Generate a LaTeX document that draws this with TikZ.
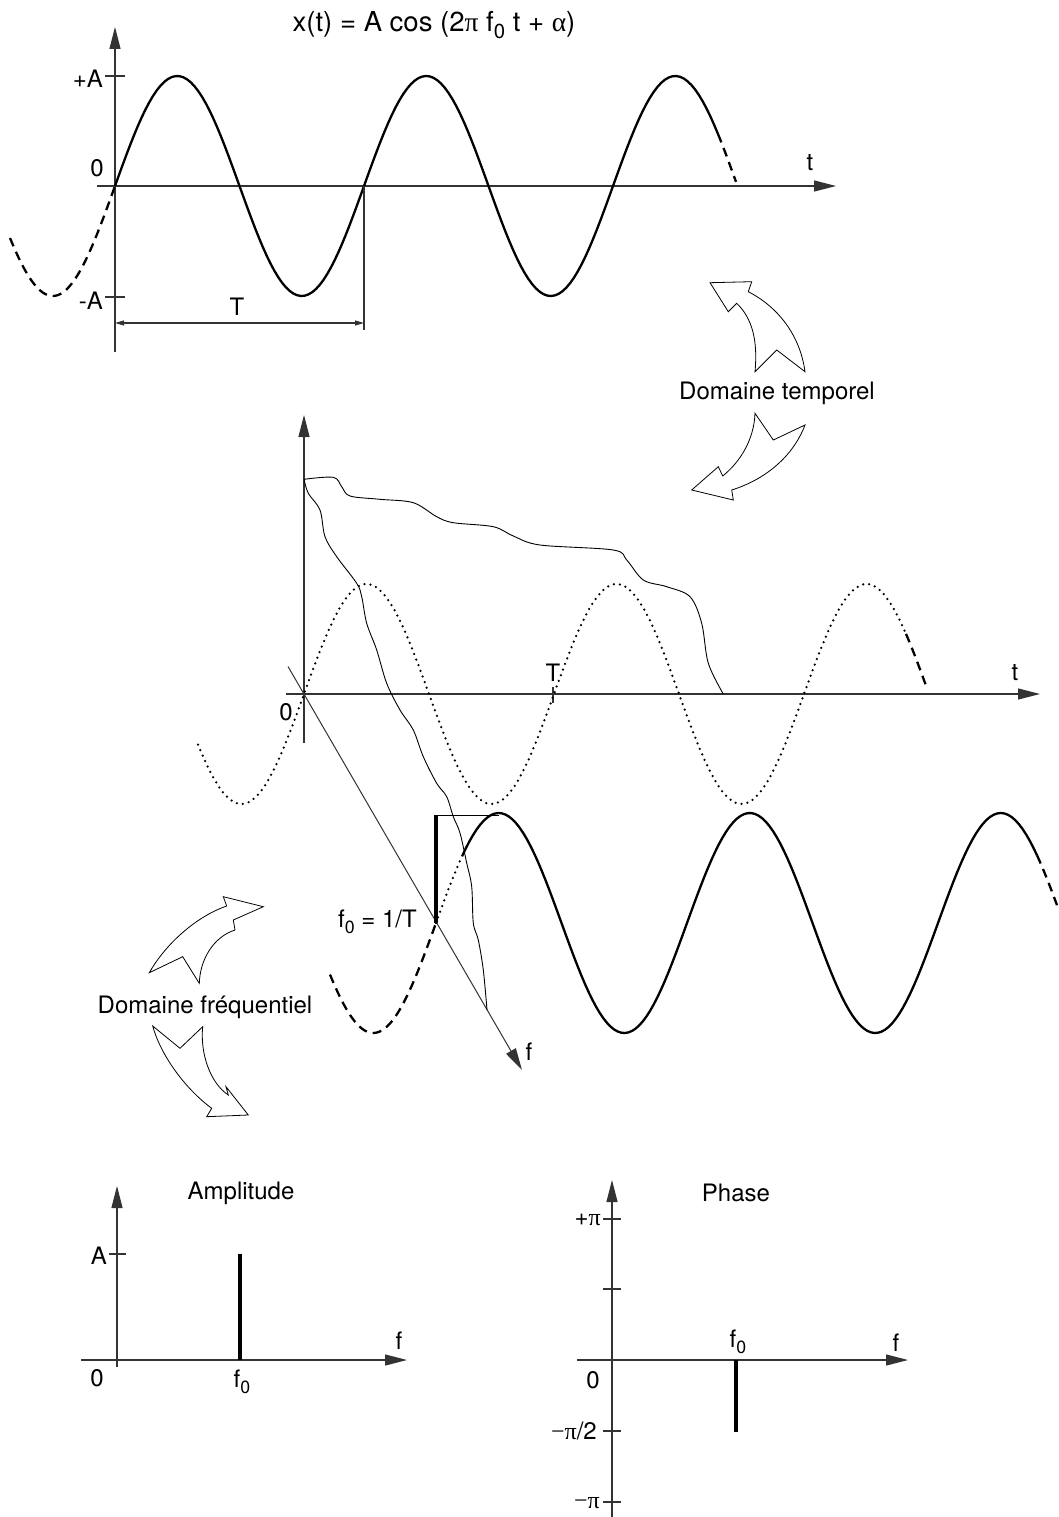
\documentclass[tikz,border=0pt]{standalone}
\usepackage{fontspec}
\setmainfont{TeX Gyre Heros}
\newfontfamily\symbfont{Liberation Serif}
\usetikzlibrary{arrows.meta}

\newcommand\fzero{f\raisebox{-0.25em}{\scalebox{0.74}{0}}}
\newcommand\gk[1]{{\symbfont #1}}

\begin{document}
\begin{tikzpicture}[x=1pt, y=-1pt,
    axis/.style={line width=1.2pt, black!80},
    bigtip/.style={-{Triangle[length=22pt,width=11pt]}},
    wave/.style={line width=2.3pt, line join=round},
    dotwave/.style={line width=2.5pt, dash pattern=on 0pt off 6pt, line cap=round},
    tailwave/.style={line width=2.3pt, dash pattern=on 9pt off 6pt},
    wiggle/.style={line width=0.9pt, line join=round},
    spike/.style={line width=3.6pt},
    lbl/.style={font=\fontsize{24}{27}\selectfont, inner sep=1pt},
    blockarrow/.style={line width=0.8pt, fill=white, line join=miter}]
    \useasboundingbox (0,0) rectangle (1058,1517);

    % Formula on top
    \node[font=\fontsize{27.5}{30}\selectfont, anchor=base] (title) at (434,31.7)
        {x(t) = A cos (2\gk{π} \fzero\ t + \gk{α})};

    % ---------- Time domain signal ----------
    \def\Ta{249}
    \coordinate (o1) at (115,186);
    \coordinate (y1b) at (115,352);
    \coordinate (y1t) at (115,27);
    \coordinate (x1l) at (97,186);
    \coordinate (x1r) at (836,186);
    \draw[axis, bigtip] (y1b) -- (y1t);
    \draw[axis, bigtip] (x1l) -- (x1r);
    \draw[axis] (105,76) -- (125,76);
    \draw[axis] (105,297) -- (125,297);
    \node[lbl, anchor=east] (pA) at (104,79) {+A};
    \node[lbl, anchor=east] (mA) at (104,301) {-A};
    \node[lbl] (zero1) at (97,168) {0};
    \node[lbl] (t1) at (810,163) {t};

    % the sine, continued dashed on both sides
    \draw[wave] plot[domain=115:718, samples=160] (\x, {186-110*sin((\x-115)/\Ta*360)});
    \draw[tailwave] plot[domain=718:736, samples=10] (\x, {186-110*sin((\x-115)/\Ta*360)});
    \draw[tailwave] plot[domain=10:115, samples=40] (\x, {186-110*sin((\x-115)/\Ta*360)});

    % period
    \coordinate (p1) at (364,186);
    \coordinate (p1b) at (364,330);
    \coordinate (d1l) at (115,323);
    \coordinate (d1r) at (364,323);
    \draw[axis] (p1) -- (p1b);
    \draw[axis, {Triangle[length=9pt,width=5pt]}-{Triangle[length=9pt,width=5pt]}] (d1l) -- (d1r);
    \node[lbl] (T1) at (237,307) {T};

    % ---------- Curved arrows, time domain ----------
    \draw[blockarrow] (710,282.7) -- (751.7,281.7) -- (748.3,291.7)
        .. controls (778,307) and (800,335) .. (805,371.7) -- (776.7,350) -- (755,371.7)
        .. controls (758,340) and (752,318) .. (736.7,303.3) -- (728.3,311.7) -- cycle;
    \draw[blockarrow] (755,413.3) -- (773.3,440) -- (805,425)
        .. controls (795,452) and (770,478) .. (731.7,490) -- (733.3,500) -- (691.7,490)
        -- (718.3,466.7) -- (722.7,476) .. controls (740,462) and (754,440) .. cycle;
    \node[lbl] (dt) at (777,393) {Domaine temporel};

    % ---------- Time / frequency view ----------
    \def\Tb{250}
    \coordinate (o2) at (304,694);
    \coordinate (y2b) at (304,743);
    \coordinate (y2t) at (304,415);
    \coordinate (x2l) at (286,694);
    \coordinate (x2r) at (1040,694);
    \coordinate (f2a) at (288,666.5);
    \coordinate (f2b) at (522,1070);
    \draw[axis, bigtip] (y2b) -- (y2t);
    \draw[axis, bigtip] (x2l) -- (x2r);
    \draw[axis, line width=1pt, bigtip] (f2a) -- (f2b);
    \draw[axis] (553,687) -- (553,703);
    \node[lbl] (zero2) at (286,712) {0};
    \node[lbl] (T2) at (553,673) {T};
    \node[lbl] (t2) at (1015,673) {t};
    \node[lbl] (f2) at (529,1052) {f};

    % dotted sine in the time plane
    \draw[dotwave] plot[domain=198:906, samples=200] (\x, {694-110*sin((\x-304)/\Tb*360)});
    \draw[tailwave] plot[domain=906:926, samples=10] (\x, {694-110*sin((\x-304)/\Tb*360)});

    % envelopes
    \draw[wiggle] plot[smooth, tension=0.55] coordinates {
        (304,479.3) (333.3,477.3) (341.7,486.7) (350,496) (380,499.3) (413.3,502.7)
        (436.7,516.7) (453.3,522.7) (493.3,526.7) (513.3,536) (540,545) (613.3,550)
        (626.7,560) (643.3,580) (666.7,586.7) (690,596.7) (701.7,623.3) (708.3,663.3)
        (723.3,694)
    };
    \draw[wiggle] plot[smooth, tension=0.55] coordinates {
        (304,479.3) (308.3,493.3) (320,510) (325,536.7) (336.7,556.7) (356.7,583.3)
        (361.7,596.7) (366.7,623.3) (376.7,650) (386.7,683.3) (400,710) (413.3,730)
        (423.3,756.7) (436.7,783.3) (446.7,796.7) (453.3,816.7) (460,833) (466.7,863)
        (471.7,886.7) (473.3,923) (478.3,940) (483.3,970) (487,1010)
    };

    % sine at f0, with its line
    \def\Tc{251}
    \coordinate (s0) at (436,923);
    \coordinate (s0t) at (436,815);
    \coordinate (pk) at (499,815);
    \draw[spike] (s0) -- (s0t);
    \draw[line width=0.9pt] (s0t) -- (pk);
    \draw[dotwave] plot[domain=436:462, samples=10] (\x, {923-110*sin((\x-436)/\Tc*360)});
    \draw[wave] plot[domain=462:1037, samples=160] (\x, {923-110*sin((\x-436)/\Tc*360)});
    \draw[tailwave] plot[domain=1037:1057, samples=10] (\x, {923-110*sin((\x-436)/\Tc*360)});
    \draw[tailwave] plot[domain=330:436, samples=40] (\x, {923-110*sin((\x-436)/\Tc*360)});
    \node[lbl, anchor=base east] (f0T) at (418,927) {\fzero\ = 1/T};

    % ---------- Curved arrows, frequency domain ----------
    \draw[blockarrow] (149.3,972.7) -- (182.7,956.7) -- (199.3,983.3)
        .. controls (200,960) and (213,937) .. (235,930) -- (233.3,920) -- (263.3,906.7)
        -- (223.3,896.7) -- (226.7,906) .. controls (195,917) and (165,945) .. cycle;
    \draw[blockarrow] (152.7,1026) -- (180,1048.3) -- (202.7,1026.7)
        .. controls (200,1053) and (210,1083) .. (228.3,1095) -- (226,1086.7) -- (248.3,1115)
        -- (206.7,1116.7) -- (211.7,1108.3) .. controls (183,1087) and (160,1053) .. cycle;
    \node[lbl] (df) at (205,1007) {Domaine fréquentiel};

    % ---------- Amplitude spectrum ----------
    \coordinate (y3b) at (117,1367);
    \coordinate (y3t) at (117,1186);
    \coordinate (x3l) at (81,1360);
    \coordinate (x3r) at (407,1360);
    \draw[axis, bigtip] (y3b) -- (y3t);
    \draw[axis, bigtip] (x3l) -- (x3r);
    \draw[axis] (109,1254) -- (126,1254);
    \draw[spike] (240,1360) -- (240,1254);
    \node[lbl, anchor=east] (aA) at (108,1256) {A};
    \node[lbl] (amp) at (241,1193) {Amplitude};
    \node[lbl] (af) at (399,1341) {f};
    \node[lbl] (a0) at (97,1378) {0};
    \node[lbl, anchor=base] (af0) at (242,1387) {\fzero};

    % ---------- Phase spectrum ----------
    \coordinate (y4b) at (612,1517);
    \coordinate (y4t) at (612,1180);
    \coordinate (x4l) at (577,1360);
    \coordinate (x4r) at (908,1360);
    \draw[axis, bigtip] (y4b) -- (y4t);
    \draw[axis, bigtip] (x4l) -- (x4r);
    \foreach \yy in {1219,1289,1431,1502}
        \draw[axis] (603,\yy) -- (621,\yy);
    \draw[spike] (736,1360) -- (736,1432);
    \node[lbl, anchor=east] (ppi) at (602,1220) {+\gk{π}};
    \node[lbl, anchor=east] (phalf) at (598,1431) {\gk{−π}/2};
    \node[lbl, anchor=east] (mpi) at (601,1503) {\gk{−π}};
    \node[lbl] (p0) at (593,1380) {0};
    \node[lbl] (ph) at (736,1193) {Phase};
    \node[lbl] (pf) at (896,1343) {f};
    \node[lbl, anchor=base] (pf0) at (738,1347) {\fzero};
\end{tikzpicture}
\end{document}
